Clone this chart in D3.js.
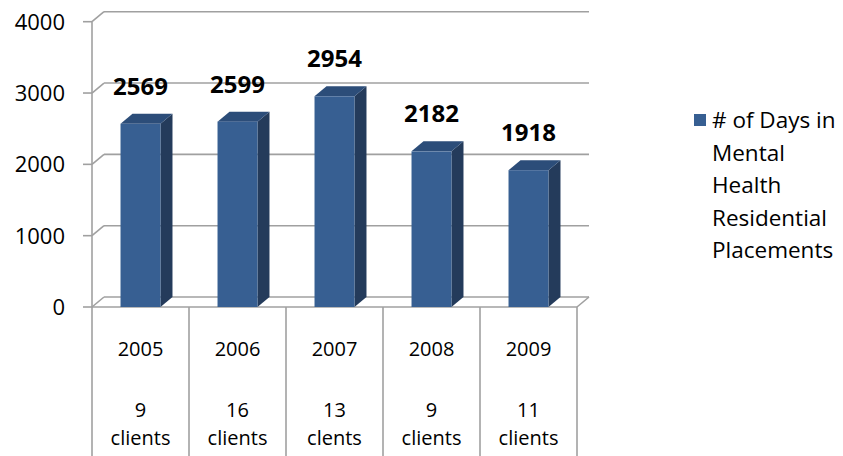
<!DOCTYPE html>
<html>
<head>
<meta charset="utf-8">
<script src="https://cdn.jsdelivr.net/npm/d3@7"></script>
<style>
  body { margin: 0; background: #fff; }
  text { font-family: "Open Sans", Lato, sans-serif; fill: #000; }
</style>
</head>
<body>
<svg id="chart" width="843" height="456"></svg>
<script>
// data
const years = ["2005", "2006", "2007", "2008", "2009"];
const clients = ["9", "16", "13", "9", "11"];
const days = [2569, 2599, 2954, 2182, 1918];
const yTicks = [0, 1000, 2000, 3000, 4000];
const seriesName = ["# of Days in", "Mental", "Health", "Residential", "Placements"];

const W = 843, H = 456;
const plotLeft = 92, plotRight = 577, floorY = 307, topY = 21.7;
const dx = 12, dy = -10; // 3d depth

const svg = d3.select("#chart");

const x = d3.scaleBand().domain(years).range([plotLeft, plotRight]).paddingInner(0.588).paddingOuter(0.294);
const col = d3.scaleBand().domain(years).range([plotLeft, plotRight]);
const y = d3.scaleLinear().domain([0, 4000]).range([floorY, topY]);

const grid = "#a0a0a0";

// back wall gridlines and side-wall diagonals
let g = svg.append("g").attr("stroke", grid).attr("stroke-width", 1.6).attr("fill", "none");
for (let t of yTicks) {
	g.append("line").attr("x1", plotLeft).attr("y1", y(t)).attr("x2", plotLeft + dx).attr("y2", y(t) + dy);
	g.append("line").attr("x1", plotLeft + dx).attr("y1", y(t) + dy).attr("x2", plotRight + dx).attr("y2", y(t) + dy);
	g.append("line").attr("x1", plotLeft - 9).attr("y1", y(t)).attr("x2", plotLeft).attr("y2", y(t));
}
// floor front edge and right corner
g.append("line").attr("x1", plotLeft).attr("y1", floorY).attr("x2", plotRight).attr("y2", floorY);
g.append("line").attr("x1", plotRight).attr("y1", floorY).attr("x2", plotRight + dx).attr("y2", floorY + dy);
// axis line runs down through the table
g.append("line").attr("x1", plotLeft).attr("y1", y(4000)).attr("x2", plotLeft).attr("y2", H);
// table column lines
for (let yr of years) {
	g.append("line").attr("x1", col(yr) + col.bandwidth()).attr("y1", floorY)
		.attr("x2", col(yr) + col.bandwidth()).attr("y2", H);
}

// y tick labels
svg.append("g").selectAll("text").data(yTicks).join("text")
	.attr("x", 65).attr("y", d => y(d) + 8)
	.attr("text-anchor", "end").attr("font-size", 22)
	.text(d => d);

// bars
const bw = x.bandwidth();
const bars = svg.append("g").selectAll("g").data(years).join("g");
bars.append("polygon")
	.attr("fill", "#243b5b")
	.attr("points", (d, i) => {
		let x1 = x(d) + bw, yt = y(days[i]);
		return [[x1, floorY], [x1, yt], [x1 + dx, yt + dy], [x1 + dx, floorY + dy]].join(" ");
	});
bars.append("polygon")
	.attr("fill", "#2c4d79")
	.attr("points", (d, i) => {
		let x0 = x(d), yt = y(days[i]);
		return [[x0, yt], [x0 + bw, yt], [x0 + bw + dx, yt + dy], [x0 + dx, yt + dy]].join(" ");
	});
bars.append("rect")
	.attr("fill", "#375f92")
	.attr("x", d => x(d)).attr("width", bw)
	.attr("y", (d, i) => y(days[i])).attr("height", (d, i) => floorY - y(days[i]));

// value labels
svg.append("g").selectAll("text").data(years).join("text")
	.attr("x", d => x(d) + bw / 2)
	.attr("y", (d, i) => y(days[i]) - 29)
	.attr("text-anchor", "middle").attr("font-size", 24).attr("font-weight", "bold")
	.text((d, i) => days[i]);

// table texts
const tx = d => col(d) + col.bandwidth() / 2;
const tbl = svg.append("g").attr("text-anchor", "middle").attr("font-size", 20);
tbl.selectAll(".yr").data(years).join("text").attr("class", "yr")
	.attr("x", tx).attr("y", 356).text(d => d);
tbl.selectAll(".cn").data(years).join("text").attr("class", "cn")
	.attr("x", tx).attr("y", 417).text((d, i) => clients[i]);
tbl.selectAll(".cl").data(years).join("text").attr("class", "cl")
	.attr("x", tx).attr("y", 445).text(d => d == "2007" ? "clents" : "clients");

// legend
const lg = svg.append("g");
lg.append("rect").attr("x", 694).attr("y", 114).attr("width", 12).attr("height", 12).attr("fill", "#375f92");
lg.selectAll("text").data(seriesName).join("text")
	.attr("x", 712).attr("y", (d, i) => 128 + i * 32.5)
	.attr("font-size", 22.5)
	.text(d => d);
</script>
</body>
</html>
